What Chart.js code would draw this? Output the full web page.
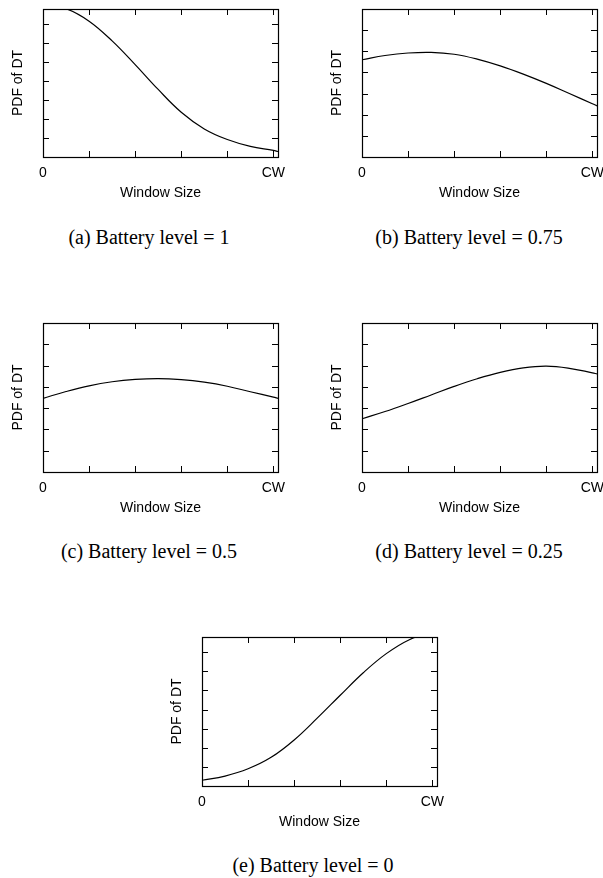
<!DOCTYPE html>
<html>
<head>
<meta charset="utf-8">
<script src="https://cdn.jsdelivr.net/npm/chart.js@4.4.1/dist/chart.umd.min.js"></script>
<style>
html, body { margin: 0; padding: 0; background: #fff; overflow: hidden; width: 603px; height: 878px; }
canvas { position: absolute; }
.cap {
    position: absolute; width: 300px; text-align: center; white-space: nowrap;
    font-family: "Liberation Serif", "Times New Roman", serif; font-size: 20px; line-height: 20px; color: #000;
}
</style>
</head>
<body>
<script>
// window size as a fraction of CW
const windowSize = [0, 0.1, 0.2, 0.3, 0.4, 0.5, 0.6, 0.7, 0.8, 0.9, 1.0, 1.02];

// PDF of DT, in y-tick units
const pdfLevel1   = [8.05, 7.82, 7.16, 6.12, 4.87, 3.56, 2.36, 1.48, 0.92, 0.56, 0.35, 0.29];
const pdfLevel075 = [4.60, 4.80, 4.92, 4.95, 4.86, 4.63, 4.31, 3.92, 3.48, 3.00, 2.52, 2.42];
const pdfLevel05  = [3.46, 3.78, 4.05, 4.24, 4.35, 4.39, 4.34, 4.22, 4.03, 3.77, 3.52, 3.46];
const pdfLevel025 = [2.50, 2.84, 3.22, 3.62, 4.02, 4.38, 4.68, 4.89, 4.97, 4.87, 4.66, 4.61];
const pdfLevel0   = [0.30, 0.52, 0.90, 1.50, 2.41, 3.55, 4.75, 5.93, 6.93, 7.66, 8.05, 8.10];

const xTicks = [0, 0.2, 0.4, 0.6, 0.8, 1.0];
const xLabels = ["0", "", "", "", "", "CW"];
const yTicks = [0, 1, 2, 3, 4, 5, 6, 7];

const captions = [
    "(a) Battery level = 1",
    "(b) Battery level = 0.75",
    "(c) Battery level = 0.5",
    "(d) Battery level = 0.25",
    "(e) Battery level = 0"
];

// plot box placement on the page
const panels = [
    { data: pdfLevel1,   yMax: 7.8, left: 43,  top: 9,   h: 148, capX: 149, capY: 244 },
    { data: pdfLevel075, yMax: 7.0, left: 362, top: 9,   h: 148, capX: 469, capY: 244 },
    { data: pdfLevel05,  yMax: 7.0, left: 43,  top: 323, h: 149, capX: 149, capY: 558 },
    { data: pdfLevel025, yMax: 7.0, left: 362, top: 323, h: 149, capX: 469, capY: 558 },
    { data: pdfLevel0,   yMax: 7.8, left: 202, top: 637, h: 149, capX: 313, capY: 872 }
];

const PLOT_W = 235, Y_AXIS_W = 43, X_AXIS_H = 46, PAD_TOP = 9, PAD_RIGHT = 24, TICK = 6;
const SANS = "'Liberation Sans', Arial, Helvetica, sans-serif";

// box round the plot and inward ticks on all four sides
const frame = {
    id: "frame",
    afterDraw(chart) {
        const { ctx, chartArea: a, scales: { x, y } } = chart;
        ctx.save();
        ctx.strokeStyle = "#000";
        ctx.lineWidth = 1;
        ctx.beginPath();
        xTicks.forEach(v => {
            const px = Math.round(x.getPixelForValue(v)) + 0.5;
            ctx.moveTo(px, a.bottom); ctx.lineTo(px, a.bottom - TICK);
            ctx.moveTo(px, a.top); ctx.lineTo(px, a.top + TICK);
        });
        yTicks.forEach(v => {
            const py = Math.round(y.getPixelForValue(v)) + 0.5;
            ctx.moveTo(a.left, py); ctx.lineTo(a.left + TICK, py);
            ctx.moveTo(a.right, py); ctx.lineTo(a.right - TICK, py);
        });
        ctx.stroke();
        ctx.lineWidth = 1.2;
        ctx.strokeRect(a.left + 0.5, a.top + 0.5, a.right - a.left, a.bottom - a.top);
        ctx.restore();
    }
};

panels.forEach((p, i) => {
    const canvas = document.createElement("canvas");
    canvas.width = Y_AXIS_W + PLOT_W + PAD_RIGHT;
    canvas.height = PAD_TOP + p.h + X_AXIS_H;
    canvas.style.left = (p.left - Y_AXIS_W) + "px";
    canvas.style.top = (p.top - PAD_TOP) + "px";
    document.body.appendChild(canvas);

    const cap = document.createElement("div");
    cap.className = "cap";
    cap.textContent = captions[i];
    cap.style.left = (p.capX - 150) + "px";
    cap.style.top = (p.capY - 17) + "px";
    document.body.appendChild(cap);

    new Chart(canvas, {
        type: "line",
        data: {
            datasets: [{
                data: windowSize.map((x, j) => ({ x: x, y: p.data[j] })),
                borderColor: "#000",
                borderWidth: 1.2,
                pointRadius: 0,
                fill: false,
                tension: 0.4
            }]
        },
        options: {
            responsive: false,
            animation: false,
            layout: { padding: { top: PAD_TOP, right: PAD_RIGHT, bottom: 0, left: 0 } },
            plugins: { legend: { display: false }, tooltip: { enabled: false } },
            scales: {
                x: {
                    type: "linear",
                    min: 0,
                    max: 1.02,
                    grid: { display: false, drawTicks: false },
                    border: { display: false },
                    afterBuildTicks: s => { s.ticks = xTicks.map(v => ({ value: v })); },
                    afterFit: s => { s.height = X_AXIS_H; },
                    ticks: {
                        autoSkip: false,
                        maxRotation: 0,
                        padding: 8,
                        color: "#000",
                        font: { family: SANS, size: 14 },
                        callback: v => xLabels[xTicks.indexOf(v)] || ""
                    },
                    title: {
                        display: true,
                        text: "Window Size",
                        color: "#000",
                        font: { family: SANS, size: 14 },
                        padding: { top: 0, bottom: 1 }
                    }
                },
                y: {
                    min: 0,
                    max: p.yMax,
                    grid: { display: false, drawTicks: false },
                    border: { display: false },
                    afterBuildTicks: s => { s.ticks = yTicks.map(v => ({ value: v })); },
                    afterFit: s => { s.width = Y_AXIS_W; },
                    ticks: { display: false },
                    title: {
                        display: true,
                        text: "PDF of DT",
                        color: "#000",
                        font: { family: SANS, size: 14 },
                        padding: { top: 10, bottom: 0 }
                    }
                }
            }
        },
        plugins: [frame]
    });
});
</script>
</body>
</html>
